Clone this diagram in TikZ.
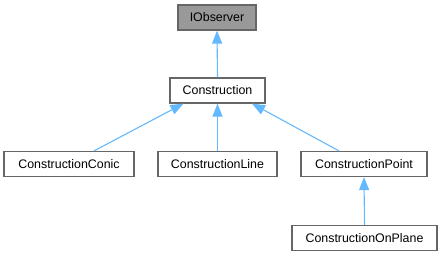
\documentclass[tikz,border=0pt]{standalone}
\usepackage{fontspec}
\setmainfont{Liberation Sans}
\usetikzlibrary{arrows.meta}
\definecolor{edgeblue}{HTML}{63B8FF}
\definecolor{boxline}{HTML}{666666}
\definecolor{boxfill}{HTML}{999999}
\tikzset{
  cls/.style={draw=boxline, line width=1.2pt, fill=white, minimum height=25pt,
    inner sep=0pt, font=\fontsize{12.4}{14}\selectfont},
  base/.style={cls, fill=boxfill},
  inherit/.style={draw=edgeblue, line width=1.1pt,
    {Triangle[length=13pt,width=10pt,fill=edgeblue]}-}
}
\begin{document}
\begin{tikzpicture}[x=1pt,y=-1pt]
  \useasboundingbox (0,0) rectangle (442,256);
  \node[base, minimum width=78pt] (obs) at (217,17.5) {IObserver};
  \node[cls, minimum width=95pt] (cons) at (217.5,90.5) {Construction};
  \node[cls, minimum width=130pt] (conic) at (69,164) {ConstructionConic};
  \node[cls, minimum width=119pt] (line) at (217.5,164) {ConstructionLine};
  \node[cls, minimum width=126pt] (point) at (364,164) {ConstructionPoint};
  \node[cls, minimum width=145pt] (plane) at (364.5,238) {ConstructionOnPlane};
  \draw[inherit] (obs.south) -- (cons.north);
  \draw[inherit] ([xshift=-34pt]cons.south) -- ([xshift=25pt]conic.north);
  \draw[inherit] (cons.south) -- (line.north);
  \draw[inherit] ([xshift=34.5pt]cons.south) -- ([xshift=-25pt]point.north);
  \draw[inherit] (point.south) -- (plane.north);
\end{tikzpicture}
\end{document}
